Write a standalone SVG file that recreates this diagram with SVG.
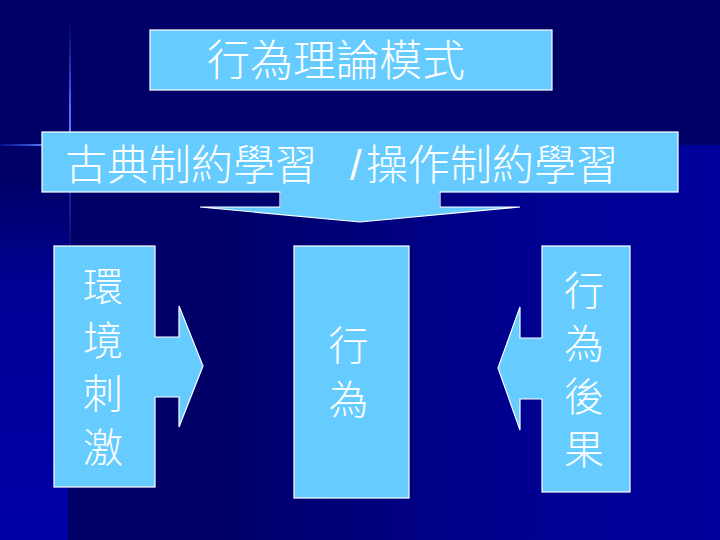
<svg xmlns="http://www.w3.org/2000/svg" width="720" height="540" viewBox="0 0 720 540">
  <defs>
    <linearGradient id="bgLower" x1="0" y1="0" x2="720" y2="0" gradientUnits="userSpaceOnUse">
      <stop offset="0" stop-color="#000068"/>
      <stop offset="0.3" stop-color="#000068"/>
      <stop offset="0.72" stop-color="#000090"/>
      <stop offset="1" stop-color="#00009c"/>
    </linearGradient>
    <linearGradient id="bgLeft" x1="0" y1="180" x2="0" y2="540" gradientUnits="userSpaceOnUse">
      <stop offset="0" stop-color="#000068"/>
      <stop offset="0.3" stop-color="#000094"/>
      <stop offset="1" stop-color="#0000a8"/>
    </linearGradient>
    <linearGradient id="glowV" x1="0" y1="20" x2="0" y2="250" gradientUnits="userSpaceOnUse">
      <stop offset="0" stop-color="#3050ff" stop-opacity="0"/>
      <stop offset="0.35" stop-color="#5070ff" stop-opacity="0.9"/>
      <stop offset="0.5" stop-color="#6080ff" stop-opacity="1"/>
      <stop offset="0.75" stop-color="#3050e0" stop-opacity="0.5"/>
      <stop offset="1" stop-color="#2040d0" stop-opacity="0.2"/>
    </linearGradient>
    <linearGradient id="glowH" x1="0" y1="0" x2="45" y2="0" gradientUnits="userSpaceOnUse">
      <stop offset="0" stop-color="#3050ff" stop-opacity="0.2"/>
      <stop offset="1" stop-color="#6080ff" stop-opacity="1"/>
    </linearGradient>
    <style>
      .box { fill: #66ccff; stroke: #ffffff; stroke-width: 1.2; }
      .afill { fill: #66ccff; stroke: none; }
      .aline { fill: none; stroke: #ffffff; stroke-width: 1.2; stroke-linejoin: miter; }
      .t { fill: #ffffff; font-weight: 300; font-family: "Liberation Sans", "Noto Sans CJK TC", "Noto Sans CJK SC", sans-serif; }
      .big { font-size: 43px; }
      .sub { font-size: 42px; }
      .v { font-size: 40px; text-anchor: middle; }
    </style>
  </defs>

  <!-- background -->
  <rect x="0" y="0" width="720" height="540" fill="#000066"/>
  <rect x="0" y="145" width="720" height="395" fill="url(#bgLower)"/>
  <rect x="0" y="145" width="68" height="395" fill="url(#bgLeft)"/>
  <rect x="69" y="20" width="2" height="230" fill="url(#glowV)"/>
  <rect x="0" y="144" width="45" height="2" fill="url(#glowH)"/>

  <!-- nodes -->
  <g id="node-title">
    <rect class="box" x="150" y="30" width="402" height="60"/>
    <text class="t big" x="207" y="76">行為理論模式</text>
  </g>
  <g id="node-conditioning">
    <rect class="box" x="42" y="132" width="636" height="60"/>
    <text class="t sub" y="180"><tspan x="65">古典制約學習 </tspan><tspan x="350">/</tspan><tspan x="366">操作制約學習</tspan></text>
  </g>
  <g id="node-stimulus">
    <rect class="box" x="54" y="246" width="101" height="241"/>
    <text class="t v" x="103" y="301">環</text>
    <text class="t v" x="103" y="354.5">境</text>
    <text class="t v" x="103" y="408">刺</text>
    <text class="t v" x="103" y="461.5">激</text>
  </g>
  <g id="node-behavior">
    <rect class="box" x="294" y="246" width="115" height="252"/>
    <text class="t v" x="348.5" y="360">行</text>
    <text class="t v" x="348.5" y="414">為</text>
  </g>
  <g id="node-consequence">
    <rect class="box" x="542" y="246" width="88" height="246"/>
    <text class="t v" x="584" y="305">行</text>
    <text class="t v" x="584" y="357.5">為</text>
    <text class="t v" x="584" y="410.5">後</text>
    <text class="t v" x="584" y="464">果</text>
  </g>

  <!-- connectors (block arrows) -->
  <g id="connectors">
    <g id="arrow-down">
      <polygon class="afill" points="280.6,191 439.4,191 439.4,207 520,207 360,222 200,207 280.6,207"/>
      <polyline class="aline" points="280,192 280,207 200,207 360,222 520,207 440,207 440,192"/>
    </g>
    <g id="arrow-right">
      <polygon class="afill" points="154,337 179,337 179,306 203,366 179,427 179,397 154,397"/>
      <polyline class="aline" points="155,337 179,337 179,306 203,366 179,427 179,397 155,397"/>
    </g>
    <g id="arrow-left">
      <polygon class="afill" points="543,338 520,338 520,307 498,368 520,430 520,399 543,399"/>
      <polyline class="aline" points="542,338 520,338 520,307 498,368 520,430 520,399 542,399"/>
    </g>
  </g>
</svg>
